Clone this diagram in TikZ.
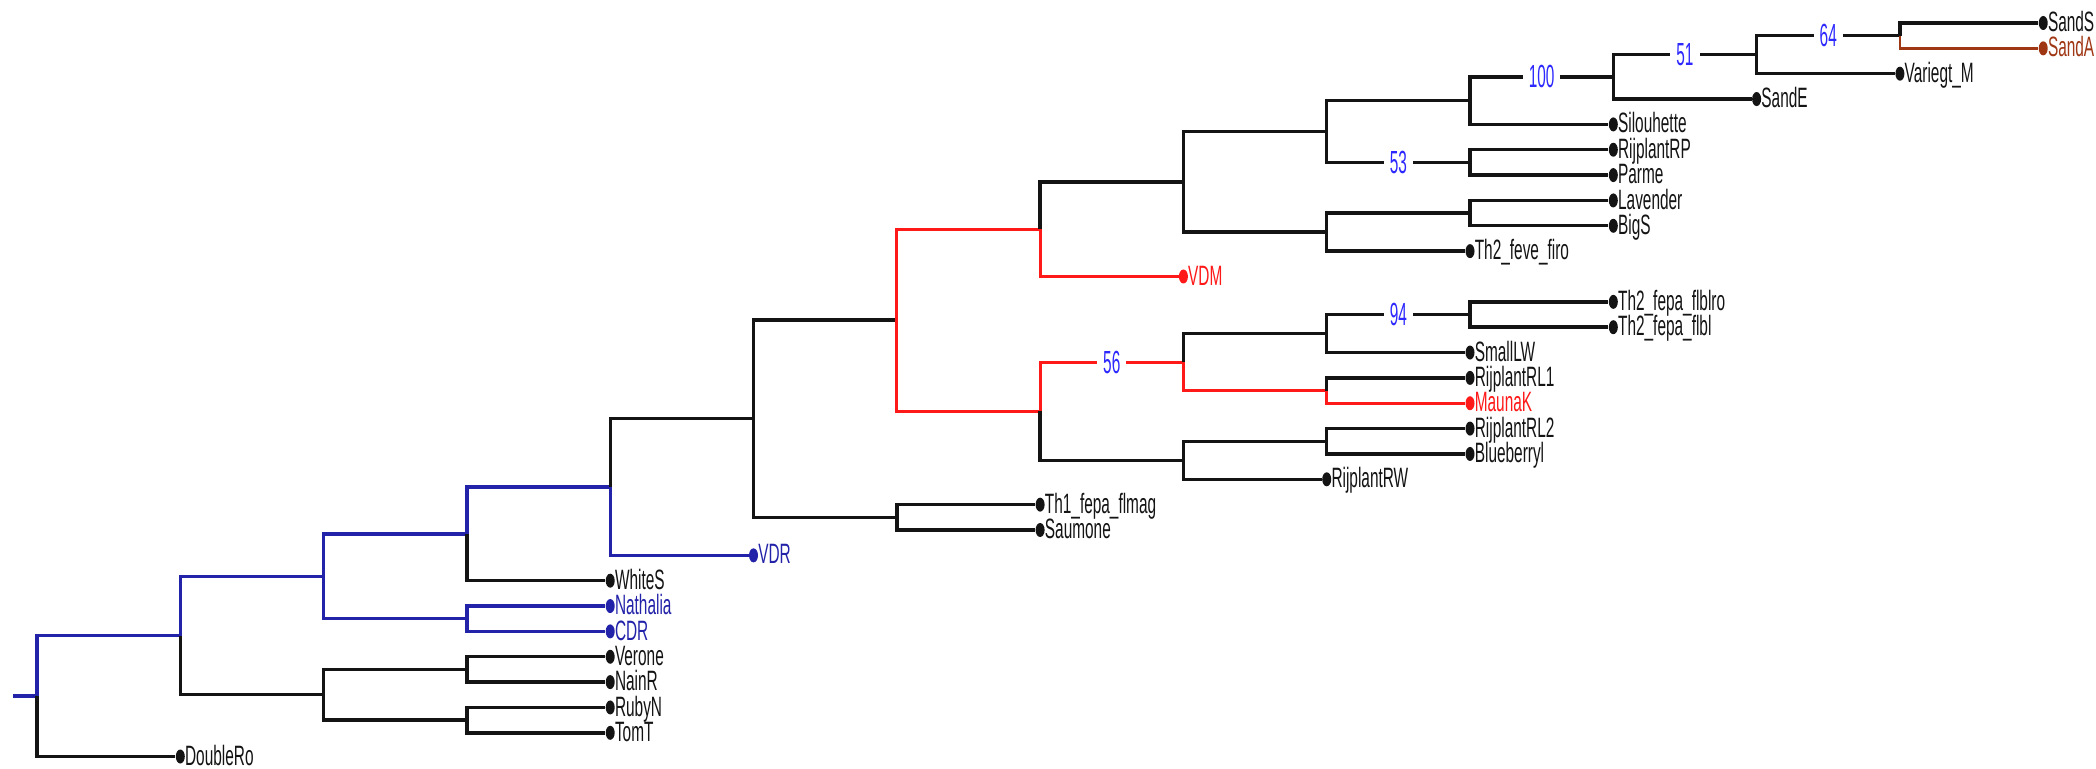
\documentclass[tikz,border=0pt]{standalone}
\usepackage{fontspec}
\newfontfamily\lblfont[FakeStretch=0.55]{Liberation Sans}
\newfontfamily\bootfont[FakeStretch=0.48]{Liberation Sans}
\usetikzlibrary{shapes.geometric}
\definecolor{tblack}{RGB}{20,20,20}
\definecolor{tblue}{RGB}{35,35,170}
\definecolor{tred}{RGB}{255,25,25}
\definecolor{tbrown}{RGB}{160,55,20}
\definecolor{tboot}{RGB}{45,40,255}
\tikzset{
  br/.style={line width=1.7pt, draw=tblack},
  brb/.style={line width=1.7pt, draw=tblue},
  brr/.style={line width=1.5pt, draw=tred},
  brn/.style={line width=1.4pt, draw=tbrown},
  dot/.style={ellipse, minimum width=4.5pt, minimum height=7pt, inner sep=0pt, draw=none},
  lbl/.style={font=\lblfont\fontsize{14}{14}\selectfont, inner sep=0pt},
  boot/.style={font=\bootfont\fontsize{16}{16}\selectfont, text=tboot, fill=white, inner xsep=3pt, inner ysep=0pt}
}
\newcommand{\leafat}[5]{%
  \node[dot, fill=#5] (#1) at (#2,#3) {};
  \node[lbl, text=#5, anchor=base west] (#1-t) at ([xshift=2.2pt,yshift=-4.3pt]#1.center) {#4};}
\begin{document}
\begin{tikzpicture}[x=0.5pt,y=-0.5pt]
\fill[white] (0,0) rectangle (2096,769);
\useasboundingbox (0,0) rectangle (2096,769);
% leaves
\leafat{SandS}{2043.2}{23.0}{SandS}{tblack}
\leafat{SandA}{2043.2}{48.35}{SandA}{tbrown}
\leafat{Variegt}{1899.9}{73.7}{Variegt\_M}{tblack}
\leafat{SandE}{1756.6}{99.05}{SandE}{tblack}
\leafat{Silou}{1613.3}{124.4}{Silouhette}{tblack}
\leafat{RP}{1613.3}{149.75}{RijplantRP}{tblack}
\leafat{Parme}{1613.3}{175.1}{Parme}{tblack}
\leafat{Lav}{1613.3}{200.45}{Lavender}{tblack}
\leafat{BigS}{1613.3}{225.8}{BigS}{tblack}
\leafat{Thff}{1470}{251.15}{Th2\_feve\_firo}{tblack}
\leafat{VDM}{1183.4}{276.5}{VDM}{tred}
\leafat{flblro}{1613.3}{301.85}{Th2\_fepa\_flblro}{tblack}
\leafat{flbl}{1613.3}{327.2}{Th2\_fepa\_flbl}{tblack}
\leafat{SmallLW}{1470}{352.55}{SmallLW}{tblack}
\leafat{RLone}{1470}{377.9}{RijplantRL1}{tblack}
\leafat{MaunaK}{1470}{403.25}{MaunaK}{tred}
\leafat{RLtwo}{1470}{428.6}{RijplantRL2}{tblack}
\leafat{Blue}{1470}{453.95}{Blueberryl}{tblack}
\leafat{RW}{1326.7}{479.3}{RijplantRW}{tblack}
\leafat{Thone}{1040.1}{504.65}{Th1\_fepa\_flmag}{tblack}
\leafat{Saum}{1040.1}{530.0}{Saumone}{tblack}
\leafat{VDR}{753.5}{555.35}{VDR}{tblue}
\leafat{WhiteS}{610.2}{580.7}{WhiteS}{tblack}
\leafat{Nath}{610.2}{606.05}{Nathalia}{tblue}
\leafat{CDR}{610.2}{631.4}{CDR}{tblue}
\leafat{Verone}{610.2}{656.75}{Verone}{tblack}
\leafat{NainR}{610.2}{682.1}{NainR}{tblack}
\leafat{RubyN}{610.2}{707.45}{RubyN}{tblack}
\leafat{TomT}{610.2}{732.8}{TomT}{tblack}
\leafat{Double}{180.3}{756.5}{DoubleRo}{tblack}
% internal nodes
\coordinate (T) at (1899.9,35.68);
\coordinate (S) at (1756.6,54.69);
\coordinate (Q) at (1613.3,76.87);
\coordinate (Qp) at (1470,100.63);
\coordinate (R) at (1470,162.43);
\coordinate (O) at (1326.7,131.53);
\coordinate (P2) at (1470,213.13);
\coordinate (P) at (1326.7,232.14);
\coordinate (N) at (1183.4,181.83);
\coordinate (L) at (1040.1,229.17);
\coordinate (M3) at (1470,314.53);
\coordinate (M2) at (1326.7,333.54);
\coordinate (M4) at (1326.7,390.58);
\coordinate (M1) at (1183.4,362.06);
\coordinate (M6) at (1326.7,441.28);
\coordinate (M5) at (1183.4,460.29);
\coordinate (M) at (1040.1,411.17);
\coordinate (J) at (896.8,320.17);
\coordinate (K) at (896.8,517.33);
\coordinate (I) at (753.5,418.75);
\coordinate (F) at (610.2,487.05);
\coordinate (D) at (466.9,533.88);
\coordinate (E) at (466.9,618.73);
\coordinate (B) at (323.6,576.3);
\coordinate (G) at (466.9,669.43);
\coordinate (H) at (466.9,720.13);
\coordinate (C) at (323.6,694.78);
\coordinate (A) at (180.3,635.54);
\coordinate (Rt) at (37,696.0);
\coordinate (stub) at (13,696.0);
% edges
\draw[brb] (stub) -- (Rt);
\draw[brb] (Rt) |- (A);
\draw[br] (Rt) |- (Double);
\draw[brb] (A) |- (B);
\draw[br] (A) |- (C);
\draw[brb] (B) |- (D);
\draw[brb] (B) |- (E);
\draw[brb] (D) |- (F);
\draw[br] (D) |- (WhiteS);
\draw[brb] (E) |- (Nath);
\draw[brb] (E) |- (CDR);
\draw[br] (C) |- (G);
\draw[br] (C) |- (H);
\draw[br] (G) |- (Verone);
\draw[br] (G) |- (NainR);
\draw[br] (H) |- (RubyN);
\draw[br] (H) |- (TomT);
\draw[br] (F) |- (I);
\draw[brb] (F) |- (VDR);
\draw[br] (I) |- (J);
\draw[br] (I) |- (K);
\draw[br] (K) |- (Thone);
\draw[br] (K) |- (Saum);
\draw[brr] (J) |- (L);
\draw[brr] (J) |- (M);
\draw[br] (L) |- (N);
\draw[brr] (L) |- (VDM);
\draw[brr] (M) |- node[boot, pos=0.75] {56} (M1);
\draw[br] (M) |- (M5);
\draw[br] (M1) |- (M2);
\draw[brr] (M1) |- (M4);
\draw[br] (M2) |- node[boot, pos=0.75] {94} (M3);
\draw[br] (M2) |- (SmallLW);
\draw[br] (M3) |- (flblro);
\draw[br] (M3) |- (flbl);
\draw[br] (M4) |- (RLone);
\draw[brr] (M4) |- (MaunaK);
\draw[br] (M5) |- (M6);
\draw[br] (M5) |- (RW);
\draw[br] (M6) |- (RLtwo);
\draw[br] (M6) |- (Blue);
\draw[br] (N) |- (O);
\draw[br] (N) |- (P);
\draw[br] (O) |- (Qp);
\draw[br] (O) |- node[boot, pos=0.75] {53} (R);
\draw[br] (R) |- (RP);
\draw[br] (R) |- (Parme);
\draw[br] (P) |- (P2);
\draw[br] (P) |- (Thff);
\draw[br] (P2) |- (Lav);
\draw[br] (P2) |- (BigS);
\draw[br] (Qp) |- node[boot, pos=0.75] {100} (Q);
\draw[br] (Qp) |- (Silou);
\draw[br] (Q) |- node[boot, pos=0.75] {51} (S);
\draw[br] (Q) |- (SandE);
\draw[br] (S) |- node[boot, pos=0.75] {64} (T);
\draw[br] (S) |- (Variegt);
\draw[br] (T) |- (SandS);
\draw[brn] (T) |- (SandA);
\end{tikzpicture}
\end{document}
